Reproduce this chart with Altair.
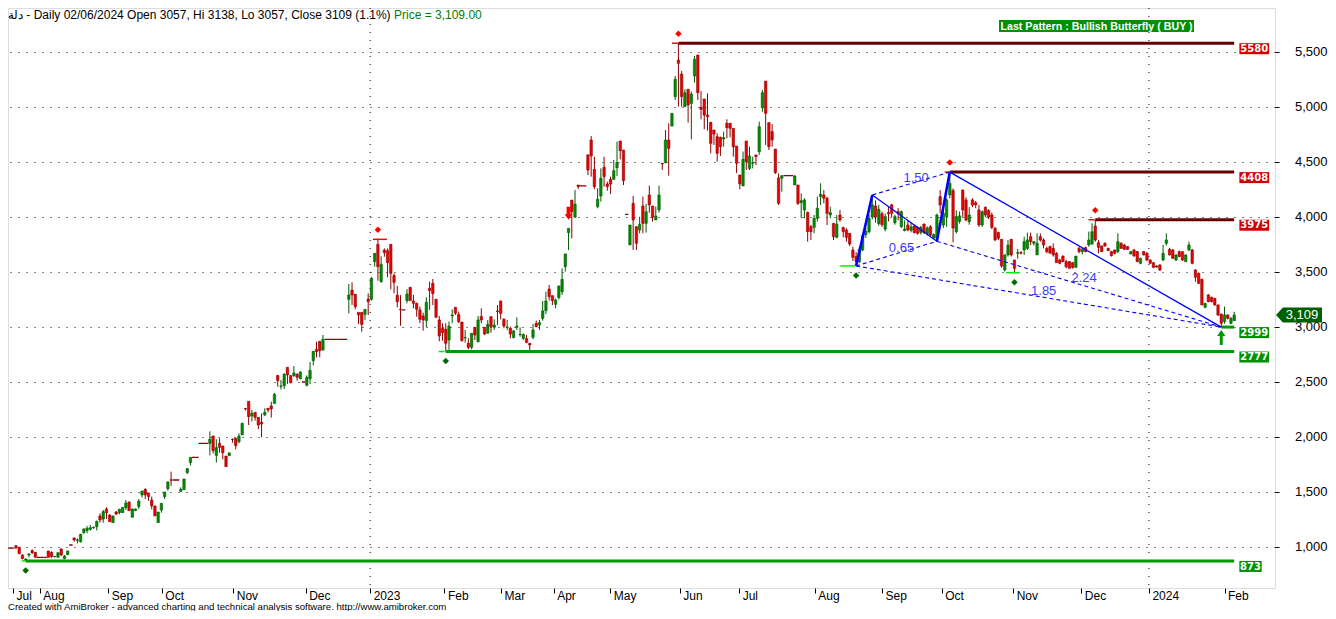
import json
import altair as alt
import pandas as pd

# ---------------- data ----------------
OPEN = [990,990,1012,997,927,882,927,966,951,906,
906,906,963,951,912,906,982,894,930,1018,
1082,1060,1048,1130,1150,1160,1175,1185,1282,1254,
1345,1291,1221,1318,1312,1312,1358,1409,1270,1330,
1367,1473,1524,1491,1427,1373,1221,1336,1458,1530,
1609,1609,1609,1506,1521,1676,1767,1815,1815,1942,
1942,1942,1942,2009,1833,1942,1918,1827,1833,1979,
1988,1957,2018,2258,2324,2191,2224,2179,2134,2200,
2261,2282,2306,2560,2460,2466,2633,2557,2557,2570,
2530,2500,2470,2530,2694,2797,2870,2791,2888,2888,
2888,2888,2888,2888,2888,3251,3336,3297,3133,3133,
3115,3254,3251,3594,3751,3412,3700,3694,3751,3467,
3288,3160,3155,3240,3361,3236,3215,3155,3100,3058,
3352,3397,3252,3064,2988,2979,2882,3100,3179,3115,
3045,2900,2852,2815,2997,2867,3094,2997,2943,3094,
2997,3146,3236,3070,2997,2988,2903,2997,2930,2897,
2894,2852,2906,3033,3018,3079,3149,3345,3285,3206,
3267,3321,3548,3858,4154,3997,4291,4282,4282,4563,
4700,4433,4094,4191,4452,4300,4342,4342,4448,4691,
4609,4024,3746,4124,3912,3882,4100,3942,4200,4100,
3973,4064,4488,4494,4700,4827,5094,5427,5300,5003,
5161,5033,5282,5473,4997,5073,4927,4861,4791,4730,
4724,4709,4852,4852,4806,4645,4382,4282,4691,4442,
4488,4564,4594,4994,5236,4858,4776,4618,4355,4352,
4376,4376,4376,4291,4291,4130,4064,4042,3912,3906,
3988,4185,4200,4170,4018,3942,3815,4018,3906,3882,
3851,3700,3640,3594,3700,3840,3867,4000,4100,3940,
4030,3890,4040,4110,3948,4050,3912,3876,3927,3880,
3918,3906,3860,3936,3850,3912,3810,3806,4185,3927,
4003,4200,4240,3867,3960,4245,4155,3957,4155,4130,
4064,3927,4088,4060,4018,3897,3858,3797,3518,3655,
3797,3609,3670,3676,3700,3715,3821,3761,3655,3821,
3791,3715,3730,3715,3670,3609,3645,3594,3594,3585,
3542,3715,3685,3722,3745,3755,3918,3767,3736,3761,
3715,3685,3700,3685,3761,3745,3730,3664,3700,3685,
3579,3685,3670,3609,3585,3555,3564,3609,3761,3706,
3700,3609,3685,3685,3594,3700,3700,3518,3488,3433,
3179,3291,3270,3260,3200,3118,3049,3109,3033,3057]

HIGH = [990,990,1016,1000,936,895,942,979,955,906,
906,906,965,960,918,951,985,927,966,1018,
1085,1078,1120,1170,1190,1200,1185,1240,1306,1336,
1361,1295,1285,1327,1348,1361,1427,1412,1350,1350,
1436,1509,1533,1491,1458,1373,1318,1397,1500,1597,
1685,1609,1609,1542,1618,1718,1815,1815,1815,1942,
1942,1942,2051,2009,1979,1988,1918,1827,1860,1985,
1988,2033,2130,2264,2324,2245,2224,2179,2215,2261,
2261,2321,2400,2560,2518,2580,2633,2563,2645,2579,
2600,2500,2560,2682,2779,2866,2870,2927,2888,2888,
2888,2888,2888,2888,2888,3391,3406,3300,3133,3133,
3160,3306,3455,3670,3797,3643,3715,3715,3751,3488,
3373,3290,3155,3343,3361,3291,3221,3185,3130,3270,
3412,3437,3252,3100,3034,3034,3049,3160,3179,3140,
3045,2973,2897,2943,2997,3100,3170,2997,3064,3094,
3070,3200,3240,3079,3064,3003,2973,3088,2997,2940,
2927,2852,3027,3058,3064,3236,3321,3382,3285,3260,
3373,3533,3664,3897,4154,4245,4291,4282,4282,4573,
4736,4548,4261,4442,4548,4321,4367,4518,4685,4691,
4609,4024,3927,4191,3912,4003,4185,4118,4285,4100,
4094,4285,4488,4791,4852,4942,5282,5580,5327,5161,
5161,5140,5464,5473,5145,5073,5124,4861,4791,4761,
4730,4776,4888,4852,4806,4645,4382,4594,4691,4639,
4548,4564,4867,5154,5236,4858,4845,4618,4397,4376,
4376,4376,4376,4380,4291,4215,4170,4048,3927,4018,
4185,4306,4245,4185,4094,3942,4018,4064,3906,3897,
3851,3730,3680,3730,3850,3900,4020,4200,4150,4110,
4050,4030,4090,4120,4020,4080,4060,3970,3970,3950,
3930,3915,3920,3940,3915,3925,3850,4030,4245,4060,
4170,4408,4260,4060,4050,4250,4180,4090,4170,4145,
4110,4060,4095,4070,4040,3910,3866,3800,3660,3790,
3800,3610,3710,3690,3821,3857,3857,3780,3851,3851,
3806,3730,3740,3760,3680,3620,3650,3610,3600,3590,
3645,3730,3720,3730,3867,3942,3975,3790,3740,3770,
3720,3690,3705,3852,3770,3755,3735,3690,3710,3690,
3630,3690,3680,3615,3590,3560,3570,3745,3852,3720,
3710,3660,3695,3690,3660,3776,3710,3525,3495,3440,
3220,3300,3275,3265,3205,3120,3185,3115,3090,3138]

LOW = [990,990,980,935,888,873,906,936,903,906,
906,906,906,904,904,903,918,888,926,1018,
1048,1033,1040,1120,1125,1148,1165,1150,1221,1221,
1254,1230,1221,1290,1297,1310,1336,1330,1270,1326,
1346,1451,1436,1421,1343,1282,1221,1312,1436,1512,
1555,1609,1609,1500,1521,1664,1742,1815,1815,1942,
1942,1942,1833,1850,1767,1857,1797,1730,1825,1948,
1888,1942,2018,2240,2109,2140,2149,2070,1997,2190,
2224,2176,2300,2457,2433,2436,2482,2488,2548,2512,
2525,2500,2460,2482,2650,2724,2724,2785,2888,2888,
2888,2888,2888,2888,2888,3124,3200,3160,3027,2958,
3064,3109,3240,3548,3421,3403,3639,3452,3342,3306,
3179,3012,3155,3215,3240,3170,3094,3034,2967,3000,
3155,3200,3088,2870,2875,2777,2792,3034,3110,3034,
2867,2858,2797,2797,2882,2858,3034,2927,2943,2948,
2973,3018,3070,2988,2973,2897,2897,2973,2912,2882,
2852,2791,2888,2997,2973,3058,3118,3240,3200,3170,
3250,3291,3503,3700,3806,3997,4255,4282,4282,4382,
4367,4252,4079,4139,4276,4239,4209,4342,4373,4524,
4291,4024,3746,3700,3700,3852,3852,3858,4039,3958,
3973,4040,4427,4488,4376,4824,5064,5003,5003,5003,
4858,4706,5221,5064,4888,4797,4785,4579,4655,4503,
4555,4639,4715,4724,4548,4400,4252,4282,4427,4427,
4442,4473,4564,4957,4655,4609,4639,4391,4109,4230,
4376,4376,4376,4291,4109,3988,3988,3776,3791,3852,
3958,4109,4124,3927,3988,3791,3806,3958,3815,3776,
3736,3600,3555,3580,3690,3810,3850,3980,3950,3920,
3910,3870,3960,4000,3930,3970,3900,3870,3870,3860,
3850,3840,3840,3845,3830,3820,3800,3779,4033,3900,
3910,4170,3770,3850,3940,4000,3960,3930,4090,4080,
3910,3910,4000,3980,3890,3780,3790,3540,3505,3640,
3640,3494,3620,3660,3655,3700,3745,3740,3655,3776,
3715,3670,3670,3640,3585,3570,3590,3533,3533,3530,
3542,3670,3660,3680,3730,3745,3775,3670,3685,3730,
3690,3640,3660,3670,3710,3700,3700,3660,3640,3590,
3570,3650,3600,3575,3535,3540,3510,3600,3740,3650,
3620,3600,3635,3600,3590,3690,3570,3412,3390,3200,
3170,3225,3225,3195,3100,2999,3030,3070,3025,3057]

CLOSE = [990,990,994,939,894,890,936,948,906,906,
906,906,906,910,915,948,927,918,963,1018,
1064,1064,1115,1163,1170,1175,1180,1233,1245,1321,
1312,1230,1282,1300,1342,1361,1400,1330,1345,1345,
1418,1509,1473,1458,1373,1282,1318,1397,1500,1591,
1609,1609,1609,1524,1618,1712,1815,1815,1815,1942,
1942,1942,1979,1876,1903,1906,1857,1730,1855,1979,
1921,2009,2124,2255,2185,2215,2179,2109,2118,2224,
2245,2255,2388,2512,2464,2570,2564,2494,2582,2543,
2588,2500,2543,2606,2779,2776,2785,2888,2888,2888,
2888,2888,2888,2888,2888,3291,3291,3185,3109,3024,
3160,3230,3442,3670,3548,3570,3676,3585,3488,3406,
3230,3155,3155,3300,3240,3215,3161,3070,3064,3224,
3330,3303,3088,2918,2948,2852,3009,3109,3124,3049,
2876,2903,2815,2943,2927,3064,3064,2936,3024,3003,
3018,3140,3124,3009,3000,2936,2964,3009,2933,2933,
2860,2836,2973,3003,3040,3146,3236,3276,3240,3245,
3373,3433,3664,3897,4048,4118,4276,4282,4282,4427,
4555,4276,4161,4352,4367,4276,4300,4421,4494,4603,
4330,4024,3927,3973,3761,3933,3942,4048,4109,3997,
4009,4200,4482,4700,4624,4942,5252,5397,5094,5130,
5018,5118,5433,5130,4979,4927,4912,4670,4755,4579,
4639,4721,4812,4806,4639,4488,4300,4524,4503,4555,
4494,4548,4821,5130,4942,4639,4700,4403,4124,4376,
4376,4376,4376,4373,4124,4148,4155,3867,3867,3988,
4079,4206,4170,4033,4039,3821,3936,3973,3867,3815,
3754,3633,3594,3706,3830,3870,3990,4110,4000,4070,
3930,4003,4030,4033,4003,4030,4048,3891,3882,3910,
3858,3851,3905,3858,3900,3836,3840,4018,4109,4033,
4155,4306,3900,4003,4010,4064,3973,4018,4109,4110,
3927,4048,4018,4000,3906,3791,3806,3554,3655,3745,
3655,3533,3676,3670,3776,3791,3776,3776,3761,3791,
3745,3685,3670,3655,3585,3579,3594,3548,3533,3542,
3645,3685,3706,3685,3791,3866,3791,3724,3685,3736,
3694,3649,3670,3776,3715,3706,3706,3685,3645,3594,
3624,3655,3609,3579,3542,3545,3518,3670,3791,3655,
3624,3655,3640,3609,3655,3745,3579,3452,3397,3200,
3215,3230,3230,3200,3109,3033,3109,3079,3079,3109]

# month tick positions (bar index) and their labels
MONTH_POS = [1.1, 9.36, 30.55, 47.13, 69.24, 91.65, 111.6, 134.6, 152.1, 168.4,
             185.9, 207.4, 225.8, 249.2, 270.0, 288.5, 310.6, 331.7, 352.6, 376.0]
MONTH_LAB = ["Jul", "Aug", "Sep", "Oct", "Nov", "Dec", "2023", "Feb", "Mar", "Apr",
             "May", "Jun", "Jul", "Aug", "Sep", "Oct", "Nov", "Dec", "2024", "Feb"]
YEAR_POS = [111.6, 352.6]
PRICE_TICKS = [1000, 1500, 2000, 2500, 3000, 3500, 4000, 4500, 5000, 5500]

# swing highs / lows
PIVOT_HIGH_BAR = [114, 207, 291, 336]
PIVOT_LOW_BAR = [5, 135, 262, 311]

# support / resistance levels
LEVEL_VAL = [5580, 4408, 3975, 2999, 2777, 873]
LEVEL_FROM = [207, 291, 336, 375, 135, 5]
LEVEL_KIND = ["res", "res", "res", "sup", "sup", "sup"]

# short pivot marker lines
TICK_FROM = [205, 112.5, 289.4, 333.9, 3.8, 132.8, 257.1, 308.4]
TICK_TO = [207, 116.8, 291.2, 335.8, 5.1, 134.6, 261.7, 312.7]
TICK_VAL = [5580, 3797, 4408, 3975, 873, 2777, 3555, 3494]
TICK_KIND = ["res", "res", "res", "res", "sup", "sup", "sup", "sup"]

# butterfly pattern X, A, B, C, D
PATTERN_BAR = [262, 267, 287, 291, 375]
PATTERN_VAL = [3555, 4200, 3779, 4408, 2999]
RATIO_FROM = [0, 1, 2, 0]
RATIO_TO = [2, 3, 4, 4]
RATIO_LAB = ["0.65", "1.50", "2.24", "1.85"]

SELL_BAR = 173
BUY_BAR = 375

HEADER = "دلة - Daily 02/06/2024 Open 3057, Hi 3138, Lo 3057, Close 3109 (1.1%)"
HEADER_PRICE = "Price = 3,109.00"
PATTERN_TEXT = "Last Pattern : Bullish Butterfly ( BUY )"
CREDIT = ("Created with AmiBroker - advanced charting and technical analysis software. "
          "http://www.amibroker.com")

# ---------------- chart ----------------
W, H = 1267, 580
FONT = "Liberation Sans"
XS = alt.Scale(domain=[1.075, 390.08], nice=False, zero=False)
YS = alt.Scale(domain=[627, 5900], nice=False, zero=False)

RED_FILL, RED_DARK = "#ee0000", "#8c0000"
GRN_FILL, GRN_DARK = "#008c00", "#005a00"
BLUE = "#0000ff"

label_expr = "%s[indexof(%s, datum.value)]" % (json.dumps(MONTH_LAB), json.dumps(MONTH_POS))
X_AXIS = alt.Axis(values=MONTH_POS, labelExpr=label_expr, labelAlign="left", labelOffset=3,
                  labelPadding=-3, labelBaseline="top", tickSize=5, tickColor="black",
                  domain=False, grid=False, title=None, labelFont=FONT, labelFontSize=12,
                  labelColor="black", labelOverlap=False, labelFlush=False, labelBound=False)
Y_AXIS = alt.Axis(orient="right", values=PRICE_TICKS, format=",d", tickSize=4,
                  tickColor="black", labelAlign="right", labelPadding=48, labelFont=FONT,
                  labelFontSize=13, labelColor="black", grid=True, gridColor="black",
                  gridDash=[1, 7], gridWidth=1, domain=False, title=None)


def X(f):
    return alt.X(f, scale=XS, axis=X_AXIS)


def Y(f):
    return alt.Y(f, scale=YS, axis=Y_AXIS)


def pick(test, a, b):
    return alt.condition(test, alt.value(a), alt.value(b))


n = min(len(OPEN), len(HIGH), len(LOW), len(CLOSE))
last = n - 1
bars = pd.DataFrame({"i": list(range(n)), "o": OPEN[:n], "h": HIGH[:n],
                     "l": LOW[:n], "c": CLOSE[:n]})
base = alt.Chart(bars)

wicks = base.mark_rule(strokeWidth=1, clip=True).encode(
    x=X("i:Q"), y=Y("l:Q"), y2="h:Q",
    color=pick("datum.c > datum.o", GRN_DARK, RED_DARK),
)
bodies = base.mark_bar(clip=True).encode(
    x=X("i:Q"), y=Y("o:Q"), y2="c:Q",
    fill=pick("datum.c > datum.o", GRN_FILL, RED_FILL),
    stroke=pick("datum.c > datum.o", GRN_DARK, RED_DARK),
    size=pick("datum.h == datum.l", 3.3, 2.4),
    strokeWidth=pick("datum.c == datum.o", 1.3, 0.6),
)

year_rules = alt.Chart(pd.DataFrame({"yr": YEAR_POS})).mark_rule(
    color="black", strokeDash=[1, 7], strokeWidth=1).encode(
    x=X("yr:Q"), y=alt.value(0), y2=alt.value(H))

lev = pd.DataFrame({"v": LEVEL_VAL, "a": LEVEL_FROM, "kind": LEVEL_KIND})
lev["b"] = last
level_lines = alt.Chart(lev).mark_rule(strokeWidth=3).encode(
    x=X("a:Q"), x2="b:Q", y=Y("v:Q"),
    color=pick("datum.kind == 'res'", "#660000", "#009900"))

tk = pd.DataFrame({"a": TICK_FROM, "b": TICK_TO, "v": TICK_VAL, "kind": TICK_KIND})
tick_lines = alt.Chart(tk).mark_rule(strokeWidth=1.5).encode(
    x=X("a:Q"), x2="b:Q", y=Y("v:Q"),
    color=pick("datum.kind == 'res'", "#ff0000", "#00ee00"))

# pattern legs
leg_rows = []
for k in range(len(PATTERN_BAR) - 1):
    w = 2.6 if k % 2 == 0 else 1.3
    for j in (k, k + 1):
        leg_rows.append({"seg": k, "i": PATTERN_BAR[j], "v": PATTERN_VAL[j], "w": w})
legs = alt.Chart(pd.DataFrame(leg_rows)).mark_line(color=BLUE).encode(
    x=X("i:Q"), y=Y("v:Q"), detail="seg:N", size=alt.Size("w:Q", scale=None, legend=None))

ratio_rows, ratio_lab_rows = [], []
for p, (a, b) in enumerate(zip(RATIO_FROM, RATIO_TO)):
    for j in (a, b):
        ratio_rows.append({"p": p, "i": PATTERN_BAR[j], "v": PATTERN_VAL[j]})
    ratio_lab_rows.append({"i": (PATTERN_BAR[a] + PATTERN_BAR[b]) / 2,
                           "v": (PATTERN_VAL[a] + PATTERN_VAL[b]) / 2, "t": RATIO_LAB[p]})
ratio_lines = alt.Chart(pd.DataFrame(ratio_rows)).mark_line(
    color=BLUE, strokeDash=[4, 3], strokeWidth=1.1).encode(x=X("i:Q"), y=Y("v:Q"), detail="p:N")
ratio_text = alt.Chart(pd.DataFrame(ratio_lab_rows)).mark_text(
    font=FONT, fontSize=13, color="#3a3aff", dx=5, dy=-6, align="center", baseline="middle").encode(
    x=X("i:Q"), y=Y("v:Q"), text="t:N")

ph = pd.DataFrame({"i": PIVOT_HIGH_BAR, "v": [HIGH[k] for k in PIVOT_HIGH_BAR]})
pl = pd.DataFrame({"i": PIVOT_LOW_BAR, "v": [LOW[k] for k in PIVOT_LOW_BAR]})
high_marks = alt.Chart(ph).mark_point(shape="diamond", filled=True, size=42, color="#ff0000",
                                       opacity=1, yOffset=-9.5).encode(x=X("i:Q"), y=Y("v:Q"))
low_marks = alt.Chart(pl).mark_point(shape="diamond", filled=True, size=42, color="#006a00",
                                      opacity=1, yOffset=9.5).encode(x=X("i:Q"), y=Y("v:Q"))

DOWN_ARROW = "M-0.3,-1L0.3,-1L0.3,0.15L0.6,0.15L0,1L-0.6,0.15L-0.3,0.15Z"
UP_ARROW = "M0,-1L0.55,-0.2L0.2,-0.2L0.2,1L-0.2,1L-0.2,-0.2L-0.55,-0.2Z"
sell = alt.Chart(pd.DataFrame({"i": [SELL_BAR], "v": [HIGH[SELL_BAR]]})).mark_point(
    shape=DOWN_ARROW, size=170, filled=True, color="#ff0000", opacity=1, yOffset=-15).encode(
    x=X("i:Q"), y=Y("v:Q"))
buy = alt.Chart(pd.DataFrame({"i": [BUY_BAR], "v": [LOW[BUY_BAR]]})).mark_point(
    shape=UP_ARROW, size=225, filled=True, color="#009900", opacity=1, yOffset=10.5).encode(
    x=X("i:Q"), y=Y("v:Q"))

# level value boxes at right edge
lb = pd.DataFrame({"v": LEVEL_VAL, "kind": LEVEL_KIND})
lb["t"] = lb["v"].astype(str)
box_base = alt.Chart(lb).transform_calculate(
    xa="380.6", xb="380.6 + length(datum.t) * 2.303", xm="380.6 + length(datum.t) * 1.151",
    vb="datum.v - 100", vm="datum.v - 52")
boxes = box_base.mark_rect().encode(
    x=X("xa:Q"), x2="xb:Q", y=Y("v:Q"), y2="vb:Q",
    color=pick("datum.kind == 'res'", "#d40000", "#009000"))
box_text = box_base.mark_text(font="DejaVu Sans", fontWeight="bold", fontSize=10, color="white",
                              align="center", baseline="middle").encode(
    x=X("xm:Q"), y=Y("vm:Q"), text="t:N")

# current price tag
TAG = "M-1,0L-0.7,-0.33L1,-0.33L1,0.33L-0.7,0.33Z"
price_df = pd.DataFrame({"v": [CLOSE[last]]})
tag = alt.Chart(price_df).mark_point(shape=TAG, size=2116, filled=True, color="#005f00",
                                     opacity=1).encode(x=alt.value(W + 24), y=Y("v:Q"))
tag_text = alt.Chart(price_df).mark_text(font=FONT, fontSize=13, color="white", align="center",
                                         baseline="middle").encode(
    x=alt.value(W + 27), y=Y("v:Q"), text=alt.Text("v:Q", format=",d"))

# texts
header = alt.Chart(pd.DataFrame({"t": [HEADER]})).mark_text(
    font=FONT, fontSize=12, color="black", align="left", baseline="alphabetic").encode(
    x=alt.value(0), y=alt.value(11), text="t:N")
header_price = alt.Chart(pd.DataFrame({"t": [HEADER_PRICE]})).mark_text(
    font=FONT, fontSize=12, color="#008000", align="left", baseline="alphabetic").encode(
    x=alt.value(386), y=alt.value(11), text="t:N")
pat_box = alt.Chart(pd.DataFrame({"t": [PATTERN_TEXT]})).mark_rect(color="#009000").encode(
    x=alt.value(991), x2=alt.value(1186), y=alt.value(12), y2=alt.value(24))
pat_text = alt.Chart(pd.DataFrame({"t": [PATTERN_TEXT]})).mark_text(
    font=FONT, fontSize=10.7, fontWeight="bold", color="white", align="center",
    baseline="middle").encode(x=alt.value(1088.5), y=alt.value(18.5), text="t:N")
credit = alt.Chart(pd.DataFrame({"t": [CREDIT]})).mark_text(
    font=FONT, fontSize=9.6, color="black", align="left", baseline="alphabetic").encode(
    x=alt.value(0), y=alt.value(H + 22), text="t:N")

chart = alt.layer(
    wicks, year_rules, level_lines, tick_lines, bodies, legs, ratio_lines, ratio_text,
    high_marks, low_marks, sell, buy, boxes, box_text, tag, tag_text,
    header, header_price, pat_box, pat_text, credit,
).properties(
    width=W, height=H,
    autosize=alt.AutoSizeParams(type="none"),
    padding={"left": 0, "top": 0, "right": 53, "bottom": 23},
).configure_view(stroke="black", strokeWidth=1).configure(background="white", font=FONT)

chart.save("out.html", embed_options={"renderer": "svg", "actions": False})
